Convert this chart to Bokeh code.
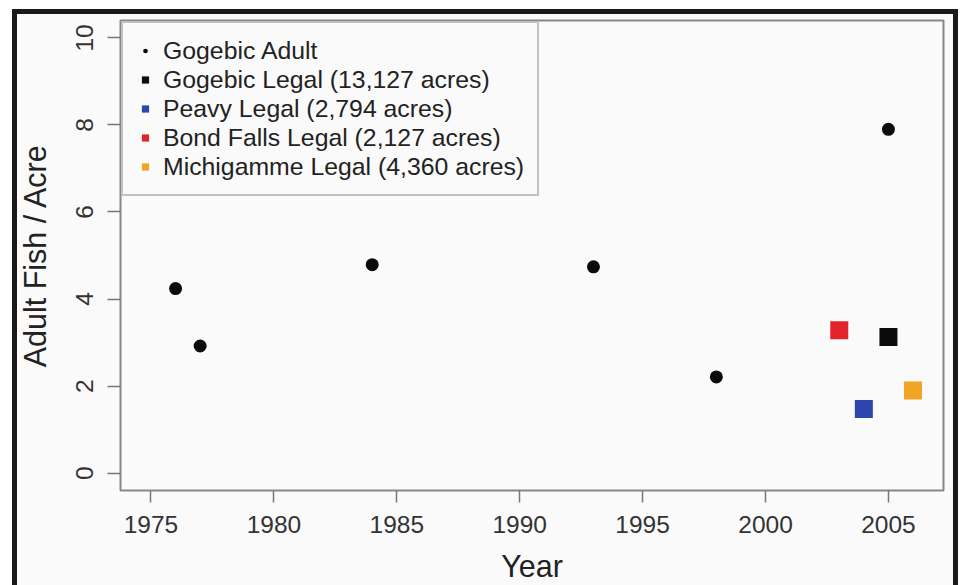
from bokeh.plotting import figure
from bokeh.models import FixedTicker, Range1d, Legend, LegendItem
from bokeh.embed import file_html
from bokeh.resources import INLINE

# ---- data ----
adult_year = [1976, 1977, 1984, 1993, 1998, 2005]
adult_fish = [4.24, 2.92, 4.79, 4.74, 2.21, 7.90]
adult_name = "Gogebic Adult"

legal_names = ["Gogebic Legal (13,127 acres)", "Peavy Legal (2,794 acres)",
               "Bond Falls Legal (2,127 acres)", "Michigamme Legal (4,360 acres)"]
legal_year = [2005, 2004, 2003, 2006]
legal_fish = [3.13, 1.47, 3.28, 1.90]
legal_colors = ["#0b0b0b", "#2c46ae", "#e3232a", "#f2a424"]

x_ticks = [1975, 1980, 1985, 1990, 1995, 2000, 2005]
y_ticks = [0, 2, 4, 6, 8, 10]
x_label = "Year"
y_label = "Adult Fish / Acre"

BG = "#fafafa"
BOX = "#8a8585"
FONT = "Liberation Sans"

p = figure(width=966, height=585, output_backend="svg", toolbar_location=None,
           x_range=Range1d(1973.76, 2007.24), y_range=Range1d(-0.4, 10.4),
           min_border_left=120, min_border_right=23, min_border_top=20, min_border_bottom=95,
           background_fill_color=BG, border_fill_color=None)
p.grid.visible = False
p.outline_line_color = BOX
p.outline_line_width = 2

for ax in (p.xaxis[0], p.yaxis[0]):
    ax.axis_line_color = None
    ax.major_tick_line_color = "#777777"
    ax.major_tick_line_width = 1.5
    ax.major_tick_in = 0
    ax.minor_tick_line_color = None
    ax.major_label_text_font = FONT
    ax.major_label_text_font_size = "24.5px"
    ax.major_label_text_color = "#333333"
    ax.axis_label_text_font = FONT
    ax.axis_label_text_font_size = "30.5px"
    ax.axis_label_text_font_style = "normal"
    ax.axis_label_text_color = "#222222"

p.xaxis.ticker = FixedTicker(ticks=x_ticks)
p.yaxis.ticker = FixedTicker(ticks=y_ticks)
p.xaxis.major_tick_out = 12
p.yaxis.major_tick_out = 13
p.xaxis.major_label_standoff = 13
p.yaxis.major_label_standoff = 14
p.yaxis.major_label_orientation = "vertical"
p.xaxis.axis_label = x_label
p.yaxis.axis_label = y_label
p.xaxis.axis_label_standoff = 13
p.yaxis.axis_label_standoff = 22

adult = p.scatter(adult_year, adult_fish, marker="circle", size=15.5,
                  fill_color="#0b0b0b", line_color=BG, line_width=2.5)
items = [LegendItem(label=adult_name, renderers=[adult])]
for name, yr, val, col in zip(legal_names, legal_year, legal_fish, legal_colors):
    r = p.scatter([yr], [val], marker="square", size=18, fill_color=col, line_color=None)
    items.append(LegendItem(label=name, renderers=[r]))

legend = Legend(items=items, location="top_left", margin=1, padding=13, spacing=0,
                glyph_width=18, glyph_height=21, label_height=29, label_width=361,
                label_standoff=9, label_text_font=FONT, label_text_font_size="24.8px",
                label_text_color="#222222", border_line_color=BOX, border_line_width=2,
                background_fill_color=BG, background_fill_alpha=1.0)
p.add_layout(legend)

p.styles = {
    "background": ("linear-gradient(#fafafa,#fafafa) 17px 14px / 936px 571px no-repeat, "
                   "linear-gradient(#1a1a1a,#1a1a1a) 12px 9px / 946px 576px no-repeat, #ffffff")
}

open("out.html", "w").write(file_html(p, INLINE))
